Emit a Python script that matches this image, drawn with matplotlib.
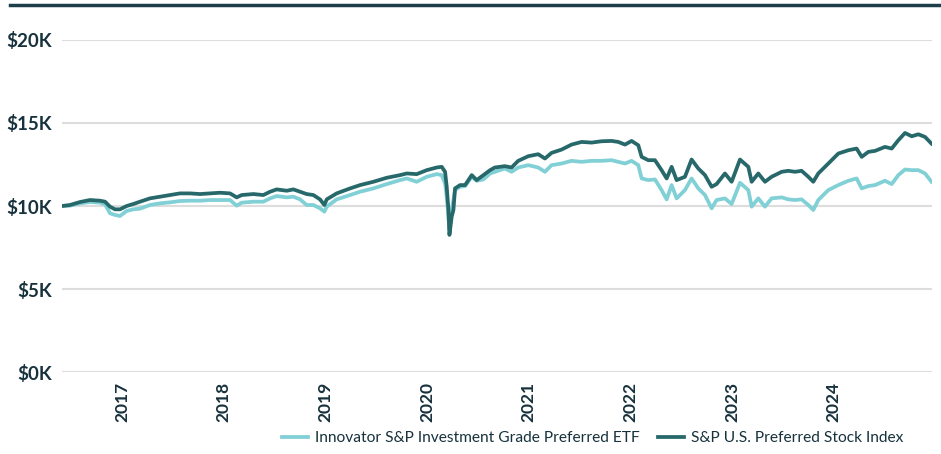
import matplotlib.pyplot as plt
from matplotlib.lines import Line2D

plt.rcParams['font.family'] = ['Lato', 'DejaVu Sans']

# dates as decimal years, values in $ (growth of $10K)
dates = [2016.41, 2016.488, 2016.587, 2016.685, 2016.783, 2016.833, 2016.882, 2016.931, 2016.980,
         2017.046, 2017.111, 2017.177, 2017.275, 2017.374, 2017.472, 2017.570, 2017.669, 2017.767,
         2017.865, 2017.964, 2018.062, 2018.128, 2018.177, 2018.292, 2018.390, 2018.456, 2018.521,
         2018.620, 2018.685, 2018.751, 2018.816, 2018.882, 2018.947, 2018.990, 2019.013, 2019.111,
         2019.243, 2019.341, 2019.472, 2019.603, 2019.734, 2019.800, 2019.898, 2019.997, 2020.095,
         2020.144, 2020.177, 2020.193, 2020.210, 2020.220, 2020.242, 2020.259, 2020.275, 2020.324,
         2020.374, 2020.439, 2020.488, 2020.554, 2020.620,
         2020.667, 2020.765, 2020.831, 2020.896, 2020.995, 2021.093, 2021.159, 2021.224, 2021.323,
         2021.421, 2021.519, 2021.618, 2021.716, 2021.815, 2021.880, 2021.946, 2022.011, 2022.077,
         2022.110, 2022.175, 2022.241, 2022.306, 2022.356, 2022.405, 2022.454, 2022.536, 2022.601,
         2022.667, 2022.733, 2022.798, 2022.847, 2022.929, 2022.995, 2023.077, 2023.159, 2023.192,
         2023.257, 2023.323, 2023.388, 2023.487, 2023.552, 2023.618, 2023.683, 2023.749, 2023.798,
         2023.847, 2023.946, 2024.044, 2024.143, 2024.224, 2024.274, 2024.339, 2024.405, 2024.503,
         2024.569, 2024.634, 2024.700, 2024.766, 2024.831, 2024.897, 2024.96]

index_vals = [10000, 10060, 10240, 10360, 10320, 10260, 9960, 9800, 9800,
              10000, 10120, 10260, 10460, 10560, 10660, 10760, 10760, 10720,
              10760, 10800, 10760, 10520, 10660, 10720, 10660, 10860, 11000,
              10920, 11000, 10860, 10720, 10660, 10400, 10060, 10400, 10760,
              11060, 11260, 11460, 11700, 11860, 11960, 11920, 12160, 12320,
              12360, 12060, 11160, 9760, 8260, 9360, 9760, 11060, 11260,
              11260, 11860, 11560, 11860, 12160,
              12320, 12400, 12320, 12720, 13000, 13120, 12860, 13200, 13400,
              13700, 13860, 13820, 13900, 13920, 13860, 13700, 13920, 13660,
              12960, 12760, 12760, 12160, 11660, 12360, 11560, 11760, 12800,
              12260, 11860, 11160, 11320, 11960, 11460, 12800, 12360, 11460,
              11960, 11460, 11760, 12060, 12120, 12060, 12120, 11760, 11460,
              11960, 12560, 13160, 13360, 13460, 12960, 13260, 13320, 13560,
              13460, 13960, 14400, 14200, 14320, 14160, 13760]

etf_vals = [10000, 10020, 10160, 10240, 10200, 10100, 9560, 9460, 9400,
            9700, 9800, 9840, 10060, 10160, 10220, 10300, 10320, 10320,
            10360, 10360, 10360, 10020, 10200, 10260, 10260, 10460, 10600,
            10520, 10560, 10400, 10060, 10060, 9860, 9660, 9960, 10400,
            10660, 10860, 11060, 11320, 11560, 11660, 11460, 11760, 11920,
            11860, 11360, 10560, 9360, 8560, 9760, 10360, 10960, 11160,
            11200, 11760, 11520, 11600, 11960,
            12060, 12260, 12060, 12320, 12460, 12320, 12060, 12460, 12560,
            12720, 12660, 12720, 12720, 12760, 12660, 12560, 12720, 12460,
            11660, 11560, 11600, 10960, 10400, 11260, 10460, 10960, 11660,
            11060, 10660, 9860, 10360, 10460, 10120, 11400, 10960, 9960,
            10460, 9960, 10460, 10520, 10400, 10360, 10400, 10060, 9760,
            10360, 10960, 11260, 11520, 11660, 11060, 11200, 11260, 11520,
            11320, 11860, 12200, 12160, 12160, 11960, 11460]

years = [2017, 2018, 2019, 2020, 2021, 2022, 2023, 2024]
yticks = [0, 5000, 10000, 15000, 20000]
ylabels = ['$0K', '$5K', '$10K', '$15K', '$20K']

text_col = '#17323d'
light = '#80d0d6'
dark = '#27686b'

fig = plt.figure(figsize=(9.41, 4.54), dpi=100)
ax = fig.add_axes([0.0659, 0.1806, 0.9245, 0.7313])

ax.plot(dates, etf_vals, color=light, lw=2.7, label='Innovator S&P Investment Grade Preferred ETF', zorder=3)
ax.plot(dates, index_vals, color=dark, lw=2.7, label='S&P U.S. Preferred Stock Index', zorder=4)

ax.set_xlim(2016.41, 2024.965)
ax.set_ylim(0, 20000)
ax.set_yticks(yticks)
ax.set_yticklabels(ylabels, fontsize=13.5, color=text_col, fontweight='bold')
ax.set_xticks(years)
ax.set_xticklabels([str(y) for y in years], rotation=90, fontsize=12.5, color=text_col, fontweight='bold')
ax.tick_params(length=0)
ax.tick_params(axis='y', pad=7)
ax.tick_params(axis='x', pad=7)
ax.grid(axis='y', color='#dddddd', lw=1.5)
ax.set_axisbelow(True)
for s in ax.spines.values():
    s.set_visible(False)

# dark rule across the top
fig.add_artist(Line2D([0.0106, 1.0], [0.989, 0.989], color='#1d3f4b', lw=2.5, transform=fig.transFigure))

h, l = ax.get_legend_handles_labels()
fig.legend(h, l, loc='lower right', bbox_to_anchor=(0.975, -0.012), ncol=2, frameon=False,
           fontsize=11.2, handlelength=1.65, handletextpad=0.45, columnspacing=1.2,
           labelcolor=text_col)

fig.savefig('out.png', dpi=100)
